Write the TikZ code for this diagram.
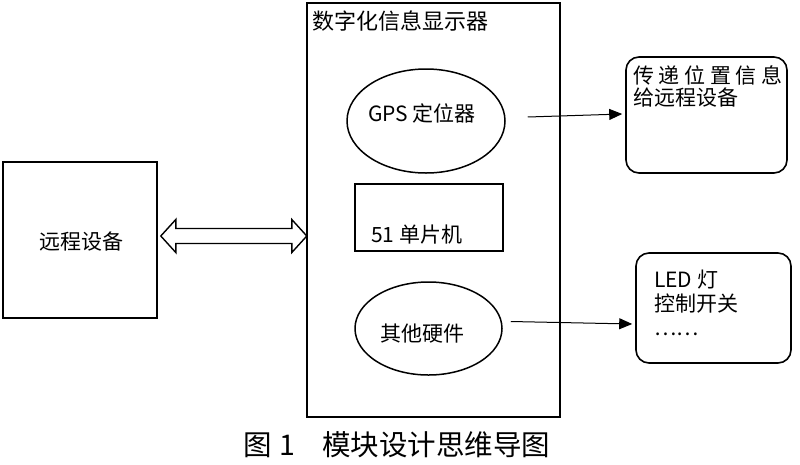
\documentclass[tikz,border=0pt]{standalone}
\usepackage{fontspec}
\newfontfamily\cjk{Noto Sans CJK SC}
\usetikzlibrary{shapes.geometric,arrows.meta,calc}
\tikzset{
  box/.style={draw,line width=1.6pt,inner sep=0pt},
  oval/.style={draw,ellipse,line width=1.5pt,inner sep=0pt},
  rbox/.style={draw,line width=1.6pt,rounded corners=13pt,inner sep=0pt},
  txt/.style={font=\cjk\fontsize{21}{24}\selectfont,inner sep=0pt},
  link/.style={-{Triangle[length=13pt,width=11pt]},line width=1pt}
}
\begin{document}
\begin{tikzpicture}[x=1pt,y=-1pt]
  \useasboundingbox (0,0) rectangle (800,464);
  \node[box,minimum width=154,minimum height=156] (remote) at (80,240) {};
  \node[txt] at (81,242) {远程设备};
  \node[box,minimum width=253,minimum height=414] (display) at (433.5,210) {};
  \node[txt,font=\cjk\fontsize{22}{24}\selectfont,anchor=west] (title) at (312,21) {数字化信息显示器};
  \node[oval,minimum width=158,minimum height=104] (gps) at (426,121) {};
  \node[txt] at (422,113) {GPS 定位器};
  \node[box,minimum width=148,minimum height=67] (mcu) at (429,217.5) {};
  \node[txt,anchor=west] at (371,235) {51 单片机};
  \node[oval,minimum width=147,minimum height=93] (other) at (428.5,328.5) {};
  \node[txt] at (422,334) {其他硬件};
  \node[rbox,minimum width=161,minimum height=116] (info) at (706.5,115) {};
  \node[txt,anchor=north west,align=left,font=\cjk\fontsize{21}{22}\selectfont] at (633,65)
    {传\hspace{4.6pt}递\hspace{4.6pt}位\hspace{4.6pt}置\hspace{4.6pt}信\hspace{4.6pt}息\\给远程设备};
  \node[rbox,minimum width=155,minimum height=110] (led) at (713.5,308) {};
  \node[txt,anchor=north west,align=left] at (654,270) {LED 灯\\控制开关\\……};
  % double arrow between remote device and display
  \coordinate (lt) at ($(remote.east)+(3,-4)$);
  \draw[line width=1.4pt,line join=miter] (lt) -- ++(15,16.5) -- ++(0,-9) -- ++(116,0) -- ++(0,9)
    -- ++(15,-16.5) -- ++(-15,-16.5) -- ++(0,9) -- ++(-116,0) -- ++(0,-9) -- cycle;
  \draw[link] ($(gps.east)+(22,-4)$) -- ($(info.west)+(-3,-1)$);
  \draw[link] ($(other.east)+(8,-7)$) -- ($(led.west)+(-3,16)$);
  \node[font=\cjk\fontsize{28.5}{30}\selectfont,inner sep=0pt] (caption) at (397,445)
    {图\hspace{0.25em}1\hspace{0.95em}模块设计思维导图};
\end{tikzpicture}
\end{document}
